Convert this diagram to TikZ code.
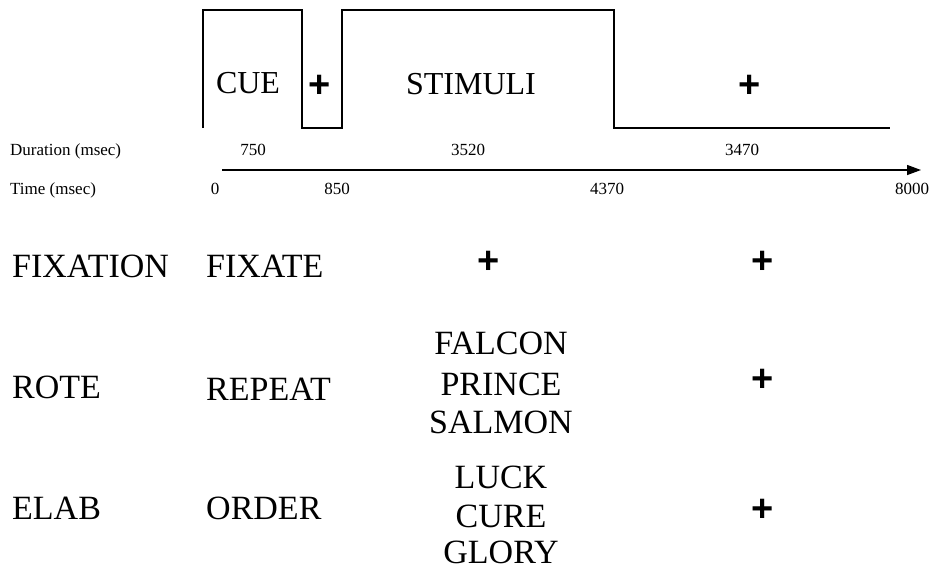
\documentclass[tikz,border=0pt]{standalone}
\usepackage{fontspec}
\setmainfont{Liberation Serif}
\newfontfamily\plusfont{Liberation Sans}
\usetikzlibrary{arrows.meta}
\begin{document}
\begin{tikzpicture}[x=1pt,y=-1pt,
  wave/.style={line width=2.6pt,line join=miter},
  axisline/.style={line width=1.3pt,-{Triangle[length=14pt,width=10pt]}},
  small/.style={inner sep=0pt,anchor=base,font=\fontsize{17}{20}\selectfont},
  big/.style={inner sep=0pt,anchor=base,font=\fontsize{32}{40}\selectfont},
  low/.style={inner sep=0pt,anchor=base,font=\fontsize{34}{40}\selectfont},
  lowl/.style={low,anchor=base west},
  plus/.style={inner sep=0pt,anchor=center,font=\plusfont\bfseries\fontsize{38}{40}\selectfont}]
\useasboundingbox (0,0) rectangle (929,571);
% waveform
\draw[wave] (203,128) -- (203,10) -- (302,10) -- (302,128) -- (342,128) -- (342,10) -- (614,10) -- (614,128) -- (890,128);
\node[big] (cue) at (248,93) {CUE};
\node[plus] (p1) at (320,86) {+};
\node[big] (stim) at (471,94) {STIMULI};
\node[plus] (p2) at (750,86) {+};
% durations
\node[small,anchor=base west] (durl) at (10,155) {Duration (msec)};
\node[small] (d1) at (253,155) {750};
\node[small] (d2) at (468,155) {3520};
\node[small] (d3) at (742,155) {3470};
% time axis
\coordinate (ts) at (222,170);
\coordinate (te) at (921,170);
\draw[axisline] (ts) -- (te);
\node[small,anchor=base west] (timel) at (10,194) {Time (msec)};
\node[small] (t0) at (215,194) {0};
\node[small] (t1) at (337,194) {850};
\node[small] (t2) at (607,194) {4370};
\node[small] (t3) at (912,194) {8000};
% conditions
\node[lowl] (c1) at (12,277) {FIXATION};
\node[lowl] (i1) at (206,277) {FIXATE};
\node[plus] (s1) at (489,262) {+};
\node[plus] (f1) at (763,262) {+};
\node[lowl] (c2) at (12,398) {ROTE};
\node[lowl] (i2) at (206,400) {REPEAT};
\node[low] (w21) at (501,354) {FALCON};
\node[low] (w22) at (501,395) {PRINCE};
\node[low] (w23) at (501,433) {SALMON};
\node[plus] (f2) at (763,380) {+};
\node[lowl] (c3) at (12,519) {ELAB};
\node[lowl] (i3) at (206,519) {ORDER};
\node[low] (w31) at (501,488) {LUCK};
\node[low] (w32) at (501,527) {CURE};
\node[low] (w33) at (501,563) {GLORY};
\node[plus] (f3) at (763,510) {+};
\end{tikzpicture}
\end{document}
